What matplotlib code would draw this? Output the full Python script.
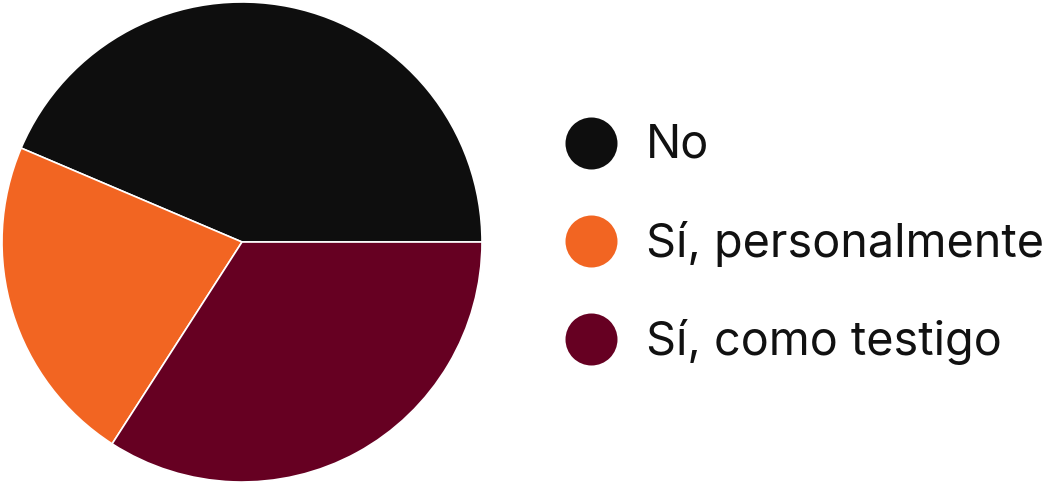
import matplotlib.pyplot as plt

# Data
labels = ['No', 'Sí, personalmente', 'Sí, como testigo']
values = [43.6, 22.3, 34.1]
colors = ['#0e0e0e', '#f26522', '#660022']

plt.rcParams['font.family'] = ['Inter', 'DejaVu Sans']

W, H = 1043, 484
fig = plt.figure(figsize=(W / 100, H / 100), dpi=100)

# Pie
ax = fig.add_axes([2 / W, 2 / H, 480 / W, 480 / H])
ax.pie(values, colors=colors, startangle=0, counterclock=True,
       wedgeprops={'edgecolor': 'white', 'linewidth': 1.2})
ax.set_xlim(-1, 1)
ax.set_ylim(-1, 1)
ax.set_aspect('equal')

# Legend drawn by hand
lax = fig.add_axes([0, 0, 1, 1])
lax.set_xlim(0, W)
lax.set_ylim(H, 0)
lax.axis('off')
y0, step = 143, 98
for i, (lab, col) in enumerate(zip(labels, colors)):
    y = y0 + i * step
    lax.scatter([591], [y], s=(52 * 0.72) ** 2, color=col, linewidths=0)
    lax.text(646, y + 3, lab, fontsize=33.7, va='center', ha='left', color='#111111')

fig.savefig('out.png', dpi=100)
